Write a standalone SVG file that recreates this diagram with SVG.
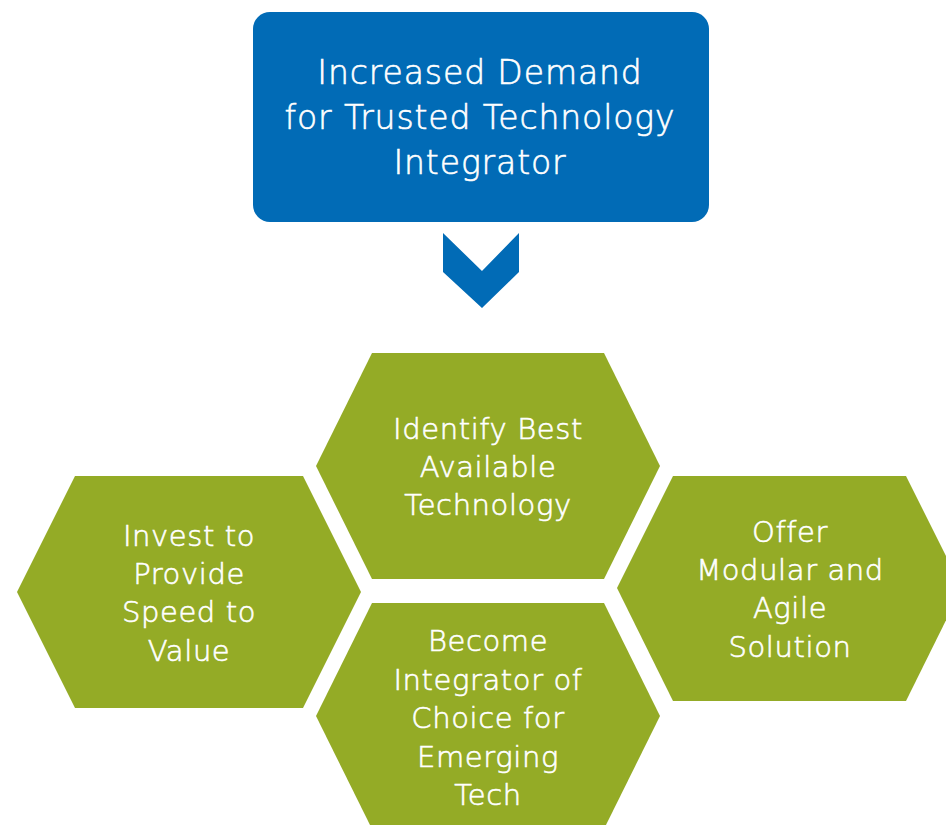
<svg xmlns="http://www.w3.org/2000/svg" width="946" height="825" viewBox="0 0 946 825">
  <style>
    .box { fill: #016BB6; }
    .hex { fill: #94AB26; }
    .arrow { fill: #016BB6; }
    text { font-family: "DejaVu Sans", "Liberation Sans", sans-serif; font-weight: 200; fill: #FFFFFF; stroke: #FFFFFF; stroke-width: 0.6px; text-anchor: middle; }
    .title { font-size: 33px; letter-spacing: 0.9px; }
    .label { font-size: 29px; letter-spacing: 0.6px; }
  </style>
  <rect width="946" height="825" fill="#FFFFFF"/>

  <g id="demand">
    <rect class="box" x="253" y="12" width="456" height="210" rx="17" ry="17"/>
    <text class="title" x="480" y="84">Increased Demand</text>
    <text class="title" x="480" y="129">for Trusted Technology</text>
    <text class="title" x="480" y="174">Integrator</text>
  </g>

  <g id="connectors">
    <polygon class="arrow" points="443,233 482,271 519,233 519,272 482,308 443,272"/>
  </g>

  <g id="identify">
    <polygon class="hex" points="372,353 604,353 660,466 604,579 372,579 316,466"/>
    <text class="label" x="488" y="439">Identify Best</text>
    <text class="label" x="488" y="477">Available</text>
    <text class="label" x="488" y="515">Technology</text>
  </g>

  <g id="invest">
    <polygon class="hex" points="75,476 303,476 361,592 303,708 75,708 17,592"/>
    <text class="label" x="189" y="546">Invest to</text>
    <text class="label" x="189" y="584">Provide</text>
    <text class="label" x="189" y="622">Speed to</text>
    <text class="label" x="189" y="661">Value</text>
  </g>

  <g id="offer">
    <polygon class="hex" points="673,476 906,476 962,588 906,701 673,701 617,588"/>
    <text class="label" x="790" y="542">Offer</text>
    <text class="label" x="790" y="580">Modular and</text>
    <text class="label" x="790" y="618">Agile</text>
    <text class="label" x="790" y="657">Solution</text>
  </g>

  <g id="become">
    <polygon class="hex" points="372,603 604,603 660,716 604,829 372,829 316,716"/>
    <text class="label" x="488" y="651">Become</text>
    <text class="label" x="488" y="690">Integrator of</text>
    <text class="label" x="488" y="728">Choice for</text>
    <text class="label" x="488" y="767">Emerging</text>
    <text class="label" x="488" y="805">Tech</text>
  </g>
</svg>
